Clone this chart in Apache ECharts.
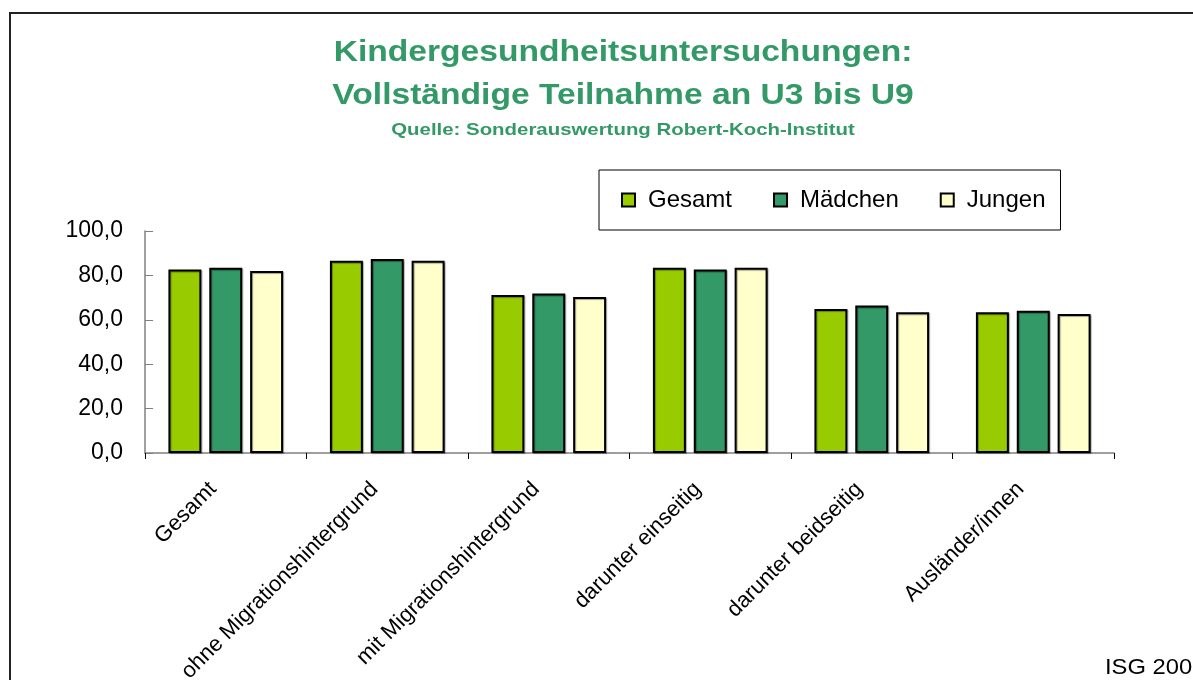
<!DOCTYPE html>
<html>
<head>
<meta charset="utf-8">
<script src="https://cdn.jsdelivr.net/npm/echarts@6/dist/echarts.min.js"></script>
<style>
  html, body { margin: 0; padding: 0; background: #fff; }
  #chart { width: 1193px; height: 680px; }
</style>
</head>
<body>
<div id="chart"></div>
<script>
// Daten: vollständige Teilnahme an U3 bis U9 (in %)
const categories = [
  "Gesamt",
  "ohne Migrationshintergrund",
  "mit Migrationshintergrund",
  "darunter einseitig",
  "darunter beidseitig",
  "Ausländer/innen"
];
const gesamt = [82.7, 86.6, 71.2, 83.5, 64.9, 63.4];
const maedchen = [83.5, 87.4, 71.9, 82.7, 66.4, 64.1];
const jungen = [82.0, 86.6, 70.3, 83.5, 63.4, 62.6];
const yTicks = [0, 20, 40, 60, 80, 100];

const font = "Liberation Sans, Arial, sans-serif";
const green = "#339966";

const chart = echarts.init(document.getElementById("chart"));

const barSeries = (name, data, color) => ({
  name,
  type: "bar",
  data,
  barGap: "24%",
  barCategoryGap: "29%",
  itemStyle: {
    color,
    borderColor: "#000",
    borderWidth: 2,
    shadowColor: "rgba(0,0,0,0.35)",
    shadowOffsetX: 1,
    shadowOffsetY: 1,
    shadowBlur: 1
  }
});

chart.setOption({
  animation: false,
  backgroundColor: "#fff",
  legend: {
    left: 599,
    top: 170,
    padding: [18, 15, 18, 22],
    itemGap: 41,
    itemWidth: 13,
    itemHeight: 13,
    borderColor: "#000",
    borderWidth: 1,
    icon: "rect",
    textStyle: {
      fontFamily: font,
      fontSize: 24,
      color: "#000",
      padding: [0, 0, 0, 8],
      height: 26
    },
    data: ["Gesamt", "Mädchen", "Jungen"]
  },
  grid: {
    left: 145,
    right: 79,
    top: 231,
    bottom: 227,
    containLabel: false,
    outerBoundsMode: "none"
  },
  xAxis: {
    type: "category",
    data: categories,
    axisLine: { lineStyle: { color: "#808080", width: 1.5 } },
    axisTick: { show: true, length: 6, lineStyle: { color: "#000" } },
    axisLabel: {
      rotate: 45,
      interval: 0,
      margin: 20,
      padding: [0, 18, 0, 0],
      fontFamily: font,
      fontSize: 22,
      color: "#000"
    }
  },
  yAxis: {
    type: "value",
    min: 0,
    max: 100,
    interval: 20,
    splitLine: { show: false },
    axisLine: { show: true, lineStyle: { color: "#808080", width: 1.5 } },
    axisTick: { show: true, inside: true, length: 8, lineStyle: { color: "#808080" } },
    axisLabel: {
      margin: 22,
      fontFamily: font,
      fontSize: 23,
      color: "#000",
      formatter: (v) => (yTicks.includes(v) ? v.toFixed(1).replace(".", ",") : "")
    }
  },
  series: [
    barSeries("Gesamt", gesamt, "#99CC00"),
    barSeries("Mädchen", maedchen, "#339966"),
    barSeries("Jungen", jungen, "#FFFFCC")
  ],
  graphic: [
    {
      type: "rect",
      shape: { x: 10, y: 13, width: 1200, height: 700 },
      style: { fill: null, stroke: "#222", lineWidth: 2 },
      silent: true
    },
    {
      type: "text",
      x: 623,
      y: 53,
      scaleX: 1.12,
      style: {
        text: "Kindergesundheitsuntersuchungen:",
        font: "bold 30px " + font,
        fill: green,
        align: "center",
        verticalAlign: "middle"
      }
    },
    {
      type: "text",
      x: 623,
      y: 96,
      scaleX: 1.12,
      style: {
        text: "Vollständige Teilnahme an U3 bis U9",
        font: "bold 30px " + font,
        fill: green,
        align: "center",
        verticalAlign: "middle"
      }
    },
    {
      type: "text",
      x: 623,
      y: 130,
      scaleX: 1.2,
      style: {
        text: "Quelle: Sonderauswertung Robert-Koch-Institut",
        font: "bold 17px " + font,
        fill: green,
        align: "center",
        verticalAlign: "middle"
      }
    },
    {
      type: "text",
      x: 1105,
      y: 668,
      scaleX: 1.08,
      style: {
        text: "ISG 2009",
        font: "22px " + font,
        fill: "#000",
        verticalAlign: "middle"
      }
    }
  ]
});
</script>
</body>
</html>
